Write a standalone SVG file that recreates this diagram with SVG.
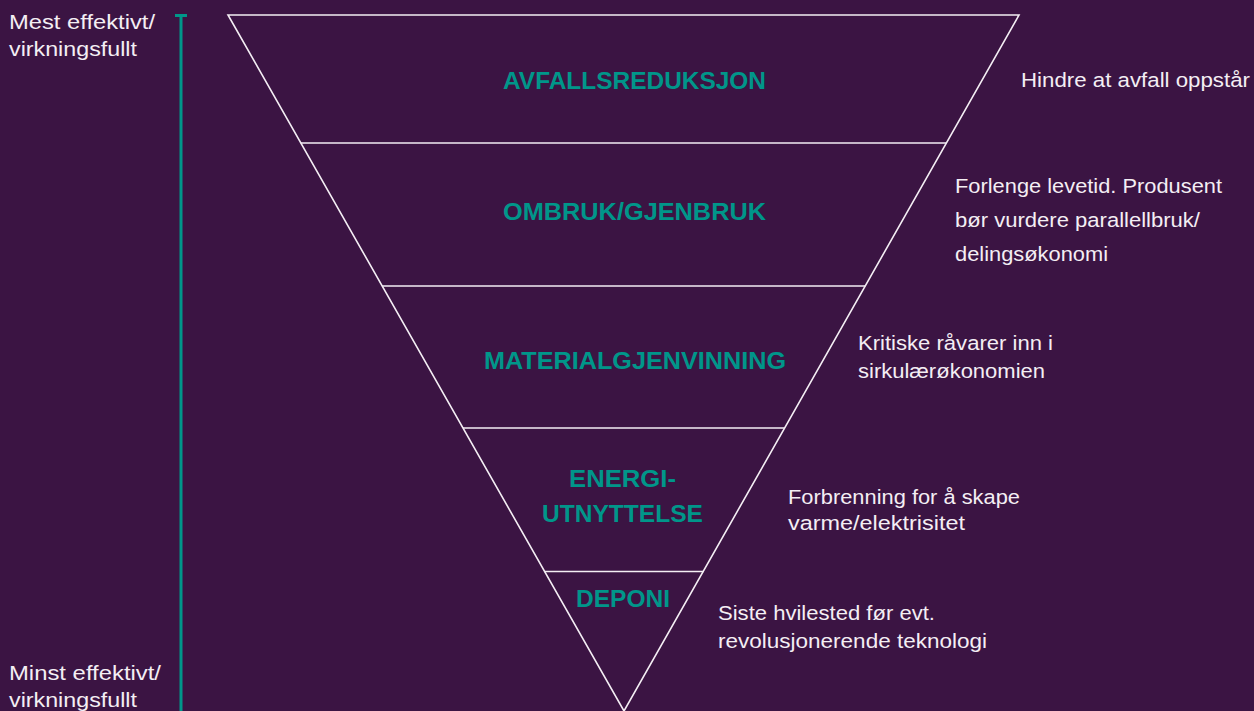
<svg xmlns="http://www.w3.org/2000/svg" width="1254" height="711" viewBox="0 0 1254 711">
<style>
.bg{fill:#3b1443}
.edge{stroke:#f4eef4;stroke-width:1.6;fill:none}
.scale{stroke:#00968a;stroke-width:3;fill:none}
.lbl{font-family:"Liberation Sans",Arial,sans-serif;font-weight:bold;font-size:23px;fill:#00968a;text-anchor:start}
.note{font-family:"Liberation Sans",Arial,sans-serif;font-size:20.5px;fill:#f4eef4}
</style>
<rect class="bg" x="0" y="0" width="1254" height="711"/>
<g id="scale">
<line class="scale" x1="181" y1="15" x2="181" y2="711"/>
<line class="scale" x1="175" y1="15.5" x2="187" y2="15.5"/>
<text class="note" x="9" y="29" textLength="146" lengthAdjust="spacingAndGlyphs">Mest effektivt/</text>
<text class="note" x="9" y="56" textLength="128" lengthAdjust="spacingAndGlyphs">virkningsfullt</text>
<text class="note" x="9" y="680" textLength="152" lengthAdjust="spacingAndGlyphs">Minst effektivt/</text>
<text class="note" x="9" y="707" textLength="128" lengthAdjust="spacingAndGlyphs">virkningsfullt</text>
</g>
<g id="connectors">
<polygon class="edge" points="228,15 1019,15 624,711"/>
<line class="edge" x1="300.8" y1="143" x2="946.4" y2="143"/>
<line class="edge" x1="382.2" y1="286" x2="865.2" y2="286"/>
<line class="edge" x1="463" y1="428" x2="784.6" y2="428"/>
<line class="edge" x1="544.3" y1="571.5" x2="703.4" y2="571.5"/>
</g>
<g id="avfallsreduksjon">
<text class="lbl" x="503" y="89" textLength="263" lengthAdjust="spacingAndGlyphs">AVFALLSREDUKSJON</text>
<text class="note" x="1021" y="87" textLength="229" lengthAdjust="spacingAndGlyphs">Hindre at avfall oppstår</text>
</g>
<g id="ombruk">
<text class="lbl" x="503" y="220" textLength="263" lengthAdjust="spacingAndGlyphs">OMBRUK/GJENBRUK</text>
<text class="note" x="955" y="193" textLength="267" lengthAdjust="spacingAndGlyphs">Forlenge levetid. Produsent</text>
<text class="note" x="955" y="227" textLength="245" lengthAdjust="spacingAndGlyphs">bør vurdere parallellbruk/</text>
<text class="note" x="955" y="261" textLength="153" lengthAdjust="spacingAndGlyphs">delingsøkonomi</text>
</g>
<g id="materialgjenvinning">
<text class="lbl" x="484" y="369" textLength="302" lengthAdjust="spacingAndGlyphs">MATERIALGJENVINNING</text>
<text class="note" x="858" y="350" textLength="195" lengthAdjust="spacingAndGlyphs">Kritiske råvarer inn i</text>
<text class="note" x="858" y="378" textLength="187" lengthAdjust="spacingAndGlyphs">sirkulærøkonomien</text>
</g>
<g id="energiutnyttelse">
<text class="lbl" x="569" y="487" textLength="107" lengthAdjust="spacingAndGlyphs">ENERGI-</text>
<text class="lbl" x="542" y="522" textLength="161" lengthAdjust="spacingAndGlyphs">UTNYTTELSE</text>
<text class="note" x="788" y="504" textLength="232" lengthAdjust="spacingAndGlyphs">Forbrenning for å skape</text>
<text class="note" x="788" y="530" textLength="177" lengthAdjust="spacingAndGlyphs">varme/elektrisitet</text>
</g>
<g id="deponi">
<text class="lbl" x="576" y="607" textLength="94" lengthAdjust="spacingAndGlyphs">DEPONI</text>
<text class="note" x="718" y="620" textLength="217" lengthAdjust="spacingAndGlyphs">Siste hvilested før evt.</text>
<text class="note" x="718" y="648" textLength="269" lengthAdjust="spacingAndGlyphs">revolusjonerende teknologi</text>
</g>
</svg>
